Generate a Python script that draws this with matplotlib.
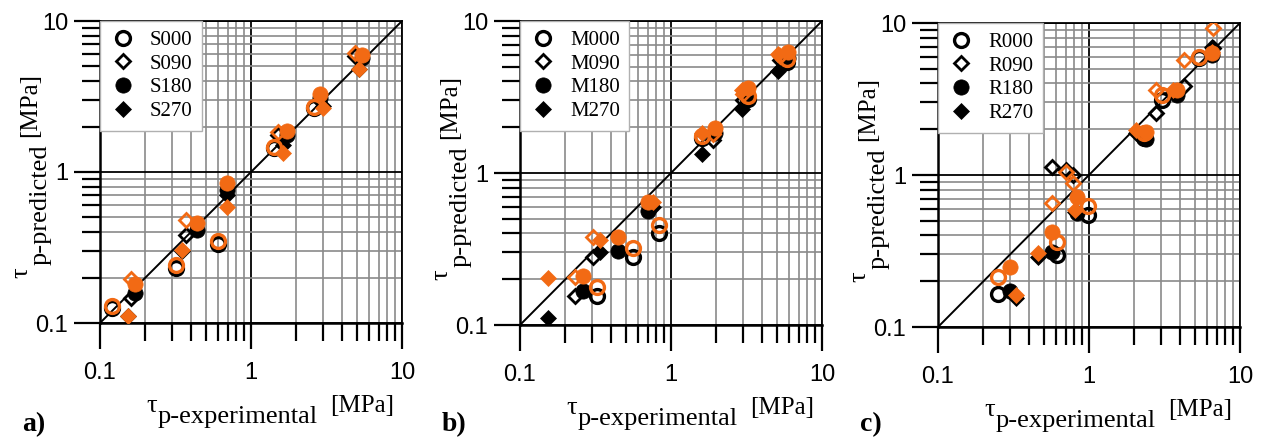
import matplotlib

matplotlib.use("Agg")
import matplotlib.pyplot as plt
from matplotlib.lines import Line2D
from matplotlib.ticker import LogLocator, NullFormatter, FixedFormatter, FixedLocator

W, H = 1269, 437
ORANGE = "#f26a14"
SERIF = "Liberation Serif"
SANS = "Liberation Sans"

# ---- panel a) : S specimens (experimental x, black prediction, orange prediction)
S000_exp = [0.12, 0.32, 0.608, 1.41, 2.6]
S000_blk = [0.126, 0.232, 0.333, 1.45, 2.65]
S000_org = [0.13, 0.243, 0.347, 1.47, 2.7]
S090_exp = [0.16, 0.37, 1.5, 4.85]
S090_blk = [0.146, 0.383, 1.75, 5.9]
S090_org = [0.195, 0.482, 1.85, 6.1]
S180_exp = [0.17, 0.437, 0.69, 1.72, 2.86, 5.41]
S180_blk = [0.158, 0.41, 0.76, 1.75, 3.1, 5.7]
S180_org = [0.182, 0.458, 0.85, 1.87, 3.31, 5.92]
S270_exp = [0.154, 0.347, 0.69, 1.62, 2.98, 5.2]
S270_blk = [0.112, 0.3, 0.7, 1.5, 2.75, 4.8]
S270_org = [0.112, 0.305, 0.584, 1.34, 2.64, 4.84]

# ---- panel b) : M specimens
M000_exp = [0.322, 0.563, 0.837, 1.6, 3.25, 5.83]
M000_blk = [0.154, 0.282, 0.40, 1.7, 3.05, 5.4]
M000_org = [0.177, 0.32, 0.457, 1.75, 3.2, 5.59]
M090_exp = [0.231, 0.306, 1.89, 3.0, 5.3]
M090_blk = [0.154, 0.279, 1.66, 3.0, 5.5]
M090_org = [0.208, 0.379, 1.8, 3.3, 5.9]
M180_exp = [0.263, 0.448, 0.708, 1.96, 3.25, 5.97]
M180_blk = [0.168, 0.309, 0.559, 1.84, 3.1, 5.7]
M180_org = [0.21, 0.379, 0.644, 1.98, 3.6, 6.3]
M270_exp = [0.154, 0.338, 0.76, 1.6, 2.94, 5.14]
M270_blk = [0.111, 0.304, 0.6, 1.34, 2.62, 4.68]
M270_org = [0.203, 0.36, 0.645, 1.84, 3.5, 6.1]

# ---- panel c) : R specimens
R000_exp = [0.25, 0.616, 0.99, 2.3, 3.04, 5.32]
R000_blk = [0.164, 0.297, 0.546, 1.75, 3.12, 5.88]
R000_org = [0.214, 0.363, 0.63, 1.9, 3.38, 5.97]
R090_exp = [0.57, 0.703, 0.787, 2.78, 4.23, 6.6]
R090_blk = [1.13, 1.08, 1.0, 2.55, 3.86, 6.8]
R090_org = [0.65, 1.05, 0.89, 3.63, 5.73, 9.27]
R180_exp = [0.299, 0.565, 0.83, 2.4, 3.8, 6.5]
R180_blk = [0.173, 0.312, 0.559, 1.72, 3.38, 6.2]
R180_org = [0.249, 0.423, 0.72, 1.93, 3.6, 6.35]
R270_exp = [0.331, 0.461, 0.81, 2.05, 3.6, 6.52]
R270_blk = [0.154, 0.289, 0.57, 1.9, 3.5, 7.0]
R270_org = [0.162, 0.305, 0.588, 1.98, 3.63, 6.4]

ANGLES = ["000", "090", "180", "270"]
PANELS = [
    ("a)", "S", [(S000_exp, S000_blk, S000_org), (S090_exp, S090_blk, S090_org),
                 (S180_exp, S180_blk, S180_org), (S270_exp, S270_blk, S270_org)]),
    ("b)", "M", [(M000_exp, M000_blk, M000_org), (M090_exp, M090_blk, M090_org),
                 (M180_exp, M180_blk, M180_org), (M270_exp, M270_blk, M270_org)]),
    ("c)", "R", [(R000_exp, R000_blk, R000_org), (R090_exp, R090_blk, R090_org),
                 (R180_exp, R180_blk, R180_org), (R270_exp, R270_blk, R270_org)]),
]

# axes boxes in pixels: left, top, right, bottom
BOXES = [(100, 21, 402, 323), (520, 21, 822, 325), (938, 23, 1240, 327)]

TICKS = [0.1, 1, 10]
TICK_LABELS = ["0.1", "1", "10"]


def marker_style(i, color):
    if i == 0:
        return dict(marker="o", ms=10, mfc="none", mec=color, mew=2.4)
    if i == 1:
        return dict(marker="D", ms=7, mfc="none", mec=color, mew=2.0)
    if i == 2:
        return dict(marker="o", ms=11, mfc=color, mec=color, mew=0.5)
    return dict(marker="D", ms=8, mfc=color, mec=color, mew=0.5)


def px(x, y):
    return x / W, 1 - y / H


fig = plt.figure(figsize=(W / 100, H / 100), dpi=100)
fig.patch.set_facecolor("white")

for (tag, prefix, series), (l, t, r, b) in zip(PANELS, BOXES):
    ax = fig.add_axes([l / W, 1 - b / H, (r - l) / W, (b - t) / H])
    ax.set_xscale("log")
    ax.set_yscale("log")
    ax.set_xlim(0.1, 10)
    ax.set_ylim(0.1, 10)
    ax.set_axisbelow(True)

    for axis in (ax.xaxis, ax.yaxis):
        axis.set_major_locator(FixedLocator(TICKS))
        axis.set_major_formatter(FixedFormatter(TICK_LABELS))
        axis.set_minor_locator(LogLocator(base=10, subs=range(2, 10)))
        axis.set_minor_formatter(NullFormatter())

    ax.grid(which="minor", color="#8a8a8a", lw=1.2)
    ax.grid(which="major", color="black", lw=1.3)
    for s in ax.spines.values():
        s.set_color("black")
        s.set_linewidth(1.3)
    ax.spines["left"].set_linewidth(1.8)
    ax.spines["bottom"].set_linewidth(1.8)

    ax.tick_params(which="major", direction="out", length=19, width=1.6, color="black")
    ax.tick_params(which="minor", direction="out", length=13, width=1.6, color="black")
    ax.tick_params(axis="x", which="major", pad=9)
    ax.tick_params(axis="y", which="major", pad=4)
    for lab in ax.get_xticklabels() + ax.get_yticklabels():
        lab.set_fontfamily(SANS)
        lab.set_fontsize(17)

    # 1:1 reference line
    ax.plot([0.1, 10], [0.1, 10], color="black", lw=1.4, zorder=2)

    for i, (xe, yb, yo) in enumerate(series):
        ax.plot(xe, yb, ls="none", zorder=3, **marker_style(i, "black"))
    for i, (xe, yb, yo) in enumerate(series):
        ax.plot(xe, yo, ls="none", zorder=4, **marker_style(i, ORANGE))

    handles = [Line2D([], [], ls="none", **marker_style(i, "black")) for i in range(4)]
    leg = ax.legend(handles, [prefix + a for a in ANGLES], loc="upper left",
                    bbox_to_anchor=(0, 1), borderaxespad=0, fancybox=False,
                    framealpha=1, edgecolor="#b0b0b0", borderpad=0.45,
                    labelspacing=0.2, handlelength=1.3, handletextpad=0.65,
                    prop={"family": SERIF, "size": 15})
    leg.get_frame().set_linewidth(1.0)
    leg.set_zorder(5)

    # x label: tau, subscript text, unit
    fig.text(*px(l + 57, b + 89), "\u03c4", family=SERIF, size=19, ha="right", va="baseline")
    fig.text(*px(l + 58, b + 100), "p-experimental", family=SERIF, size=19,
             ha="left", va="baseline")
    fig.text(*px(l + 230, b + 89), "[MPa]", family=SERIF, size=18, ha="left", va="baseline")

    # y label, rotated
    fig.text(*px(l - 68, b - 50), "\u03c4", family=SERIF, size=19, rotation=90,
             ha="center", va="bottom", rotation_mode="anchor")
    fig.text(*px(l - 53, b - 58), "p-predicted", family=SERIF, size=19, rotation=90,
             ha="left", va="baseline", rotation_mode="anchor")
    fig.text(*px(l - 64, b - 186), "[MPa]", family=SERIF, size=18, rotation=90,
             ha="left", va="baseline", rotation_mode="anchor")

    fig.text(*px(l - 78, 431), tag, family=SERIF, size=20, weight="bold",
             ha="left", va="baseline")

fig.savefig("out.png", dpi=100)
